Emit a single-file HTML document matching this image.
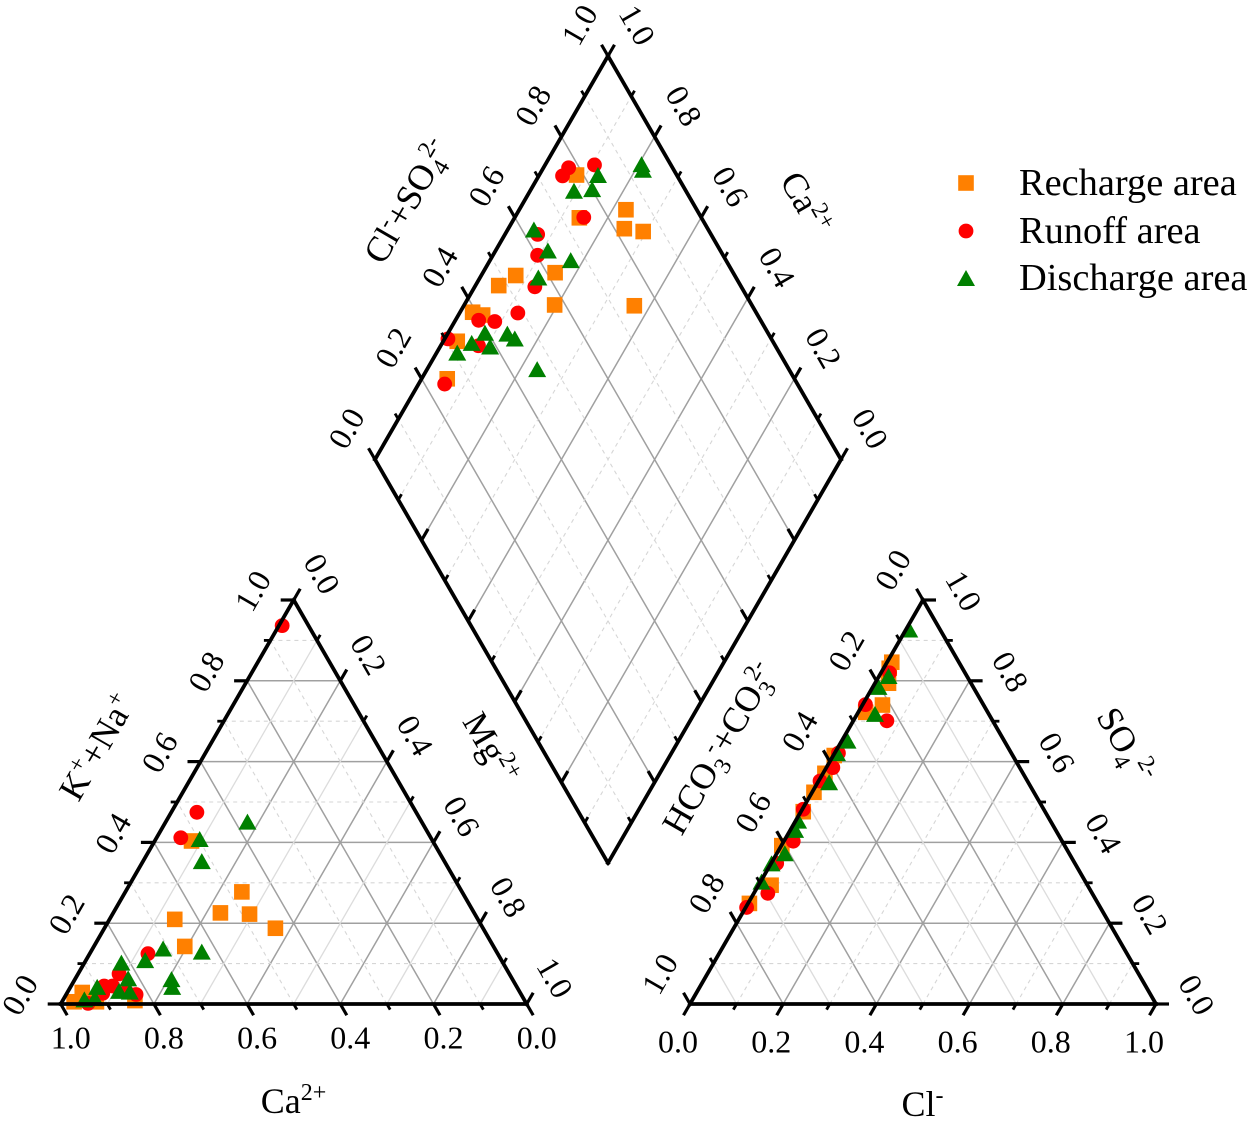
<!DOCTYPE html>
<html lang="en">
<head>
<meta charset="utf-8">
<title>Piper diagram</title>
<style>
html,body{margin:0;padding:0;background:#fff;width:1250px;height:1121px;overflow:hidden}
svg{display:block}
text{font-family:"Liberation Serif","Times New Roman",serif;fill:#000}
.tick{font-size:32px}
.title{font-size:36px}
.legend{font-size:38.4px}
</style>
</head>
<body>
<svg id="chart" xmlns="http://www.w3.org/2000/svg" width="1250" height="1121" viewBox="0 0 1250 1121">
  <rect x="0" y="0" width="1250" height="1121" fill="#fff"/>
  <g id="grid"></g>
  <g id="marks"></g>
  <g id="axes"></g>
  <g id="labels"></g>

  <text class="title" text-anchor="middle" transform="translate(97,747) rotate(-60)" y="12">K<tspan font-size="24" dy="-13">+</tspan><tspan dy="13">+Na</tspan><tspan font-size="24" dy="-13">+</tspan></text>
  <text class="title" text-anchor="middle" transform="translate(491,748) rotate(60)" y="12">Mg<tspan font-size="24" dy="-13">2+</tspan></text>
  <text class="title" text-anchor="middle" x="293.5" y="1113">Ca<tspan font-size="24" dy="-13">2+</tspan></text>
  <text class="title" text-anchor="middle" transform="translate(719,748) rotate(-60)" y="12">HCO<tspan font-size="24" dy="8">3</tspan><tspan font-size="24" dy="-21" dx="-1">-</tspan><tspan dy="13">+CO</tspan><tspan font-size="24" dy="8">3</tspan><tspan font-size="24" dy="-21" dx="-6">2-</tspan></text>
  <text class="title" text-anchor="middle" transform="translate(1126,745) rotate(60)" y="12">SO<tspan font-size="24" dy="8">4</tspan><tspan font-size="24" dy="-21" dx="2">2-</tspan></text>
  <text class="title" text-anchor="middle" x="922.5" y="1116">Cl<tspan font-size="24" dy="-13">-</tspan></text>
  <text class="title" text-anchor="middle" transform="translate(407,201) rotate(-60)" y="12">Cl<tspan font-size="24" dy="-13">-</tspan><tspan dy="13">+SO</tspan><tspan font-size="24" dy="8">4</tspan><tspan font-size="24" dy="-21" dx="-4">2-</tspan></text>
  <text class="title" text-anchor="middle" transform="translate(806,203) rotate(60)" y="12">Ca<tspan font-size="24" dy="-13">2+</tspan></text>

  <g>
    <rect x="958.2" y="175.2" width="15.6" height="15.6" fill="#FF8000"/>
    <text class="legend" x="1019" y="195">Recharge area</text>
    <circle cx="966" cy="231" r="7.4" fill="#FF0000"/>
    <text class="legend" x="1019" y="243">Runoff area</text>
    <polygon points="957,286 975,286 966,270" fill="#008000"/>
    <text class="legend" x="1019" y="290">Discharge area</text>
  </g>
</svg>

<script>
// ---------- Tick values ----------
const majorTicks = [0, 0.2, 0.4, 0.6, 0.8, 1];
const minorTicks = [0.1, 0.3, 0.5, 0.7, 0.9];
const tickLabels = ['0.0', '0.2', '0.4', '0.6', '0.8', '1.0'];

// ---------- Cation triangle: Ca2+ and K+ + Na+ fractions ----------
const rechargeCa = [0.4725, 0.5445, 0.4835, 0.6505, 0.4455, 0.6625, 0.9395, 0.9685, 0.9205, 0.8365, 0.5175];
const rechargeNa = [0.2775, 0.2255, 0.2225, 0.2095, 0.1875, 0.1425, 0.0285, 0.0055, 0.0055, 0.0085, 0.4035];
const runoffCa = [0.0565, 0.4705, 0.5365, 0.7505, 0.8375, 0.8845, 0.8665, 0.8965, 0.9405, 0.8265, 0.8435];
const runoffNa = [0.9365, 0.4745, 0.4115, 0.1245, 0.0745, 0.0445, 0.0445, 0.0265, 0.0015, 0.0235, 0.0305];
const dischargeCa = [0.3735, 0.4975, 0.5205, 0.6325, 0.7115, 0.7645, 0.8185, 0.8235, 0.7315, 0.7395, 0.8585, 0.8365, 0.9005, 0.9435, 0.9195];
const dischargeNa = [0.4515, 0.4085, 0.3535, 0.1295, 0.1375, 0.1085, 0.1025, 0.0635, 0.0615, 0.0425, 0.0325, 0.0305, 0.0425, 0.0115, 0.0145];

// ---------- Anion triangle: Cl- and SO4 2- fractions ----------
const rechargeCl = [0.010, 0.012, 0.029, 0.043, 0.016, 0.002, 0.004, 0.004, 0.005, 0.001, 0.027, 0.003];
const rechargeSO4 = [0.846, 0.831, 0.794, 0.740, 0.722, 0.615, 0.571, 0.524, 0.476, 0.392, 0.294, 0.249];
const runoffCl = [0.018, 0.006, 0.072, 0.008, 0.014, 0.003, 0.002, 0.020, 0.012, 0.030, 0.002];
const runoffSO4 = [0.820, 0.741, 0.701, 0.621, 0.585, 0.552, 0.482, 0.403, 0.348, 0.274, 0.239];
const dischargeCl = [0.007, 0.020, 0.012, 0.038, 0.012, 0.005, 0.024, 0.005, 0.010, 0.017, 0.001, 0.002];
const dischargeSO4 = [0.927, 0.812, 0.785, 0.718, 0.652, 0.621, 0.549, 0.454, 0.431, 0.373, 0.348, 0.303];

// ---------- Diamond: Cl- + SO4 2- and Ca2+ fractions ----------
const rechargeDiamondAnion = [0.785, 0.738, 0.848, 0.821, 0.858, 0.618, 0.530, 0.481, 0.577, 0.747, 0.392, 0.410, 0.323, 0.255];
const rechargeDiamondCa = [0.920, 0.861, 0.771, 0.751, 0.707, 0.845, 0.926, 0.950, 0.806, 0.634, 0.973, 0.948, 0.970, 0.945];
const runoffDiamondAnion = [0.777, 0.754, 0.836, 0.748, 0.628, 0.602, 0.557, 0.488, 0.428, 0.395, 0.306, 0.363, 0.243];
const runoffDiamondCa = [0.946, 0.949, 0.894, 0.852, 0.930, 0.904, 0.871, 0.875, 0.914, 0.950, 0.993, 0.919, 0.944];
const dischargeDiamondAnion = [0.938, 0.934, 0.831, 0.760, 0.801, 0.626, 0.630, 0.667, 0.576, 0.393, 0.440, 0.450, 0.352, 0.387, 0.309, 0.460];
const dischargeDiamondCa = [0.794, 0.784, 0.874, 0.906, 0.869, 0.944, 0.888, 0.827, 0.875, 0.921, 0.872, 0.850, 0.937, 0.893, 0.956, 0.764];

// ---------- Axis functions ----------
function leftXY(ca, na) {
  return { x: 60.7 + 466 * (1 - ca - na / 2), y: 1004 - 404 * na };
}
function rightXY(cl, so4) {
  return { x: 690 + 466 * (cl + so4 / 2), y: 1004 - 404 * so4 };
}
function diamondXY(anion, ca) {
  return { x: 608 + 233 * (anion - ca), y: 863 - 403.5 * (anion + ca) };
}

const NS = 'http://www.w3.org/2000/svg';
const gridLayer = document.getElementById('grid');
const marksLayer = document.getElementById('marks');
const axesLayer = document.getElementById('axes');
const labelsLayer = document.getElementById('labels');

function make(tag, attrs, parent) {
  const el = document.createElementNS(NS, tag);
  for (const k in attrs) el.setAttribute(k, attrs[k]);
  parent.appendChild(el);
  return el;
}

function gridLine(p, q, kind) {
  const style = kind === 'major'
    ? { stroke: '#a0a0a0', 'stroke-width': 1.5 }
    : kind === 'light'
      ? { stroke: '#dcdcdc', 'stroke-width': 1.3 }
      : { stroke: '#d6d6d6', 'stroke-width': 1.1, 'stroke-dasharray': '4 4' };
  const el = make('line', Object.assign({ x1: p.x, y1: p.y, x2: q.x, y2: q.y }, style), gridLayer);
  
  
}

function edgeLine(p, q) {
  const el = make('line', { x1: p.x, y1: p.y, x2: q.x, y2: q.y, stroke: '#000', 'stroke-width': 3.8, 'stroke-linecap': 'square' }, axesLayer);
  
  
}

function tickMark(p, dir, major) {
  const len = major ? 13 : 6.5;
  const el = make('line', { x1: p.x, y1: p.y, x2: p.x + dir[0] * len, y2: p.y + dir[1] * len, stroke: '#000', 'stroke-width': major ? 3.2 : 2.8 }, axesLayer);
  
  
}

function tickLabel(p, off, text, rot) {
  const cx = p.x + off[0], cy = p.y + off[1];
  const el = make('text', { class: 'tick', 'text-anchor': 'middle', y: 10.5, transform: 'translate(' + cx + ',' + cy + ') rotate(' + rot + ')' }, labelsLayer);
  el.textContent = text;
  
  
}

// Draw one axis: pos maps a value to an edge point
function drawAxis(pos, dir, labelOffset, rot) {
  minorTicks.forEach(function (v) { tickMark(pos(v), dir, false); });
  majorTicks.forEach(function (v, i) {
    tickMark(pos(v), dir, true);
    if (labelOffset) tickLabel(pos(v), labelOffset, tickLabels[i], rot);
  });
}

// ---------- Grid ----------
function isMajor(v) { return majorTicks.indexOf(v) >= 0; }

majorTicks.slice(1, -1).concat(minorTicks).forEach(function (v) {
  const major = isMajor(v);
  // left triangle
  gridLine(leftXY(1 - v, v), leftXY(0, v), major ? 'major' : 'dash');
  gridLine(leftXY(v, 0), leftXY(v, 1 - v), major ? 'major' : 'dash');
  gridLine(leftXY(1 - v, 0), leftXY(0, 1 - v), major ? 'major' : 'light');
  // right triangle
  gridLine(rightXY(0, v), rightXY(1 - v, v), major ? 'major' : 'dash');
  gridLine(rightXY(v, 0), rightXY(v, 1 - v), major ? 'major' : 'dash');
  gridLine(rightXY(0, 1 - v), rightXY(1 - v, 0), major ? 'major' : 'light');
  // diamond
  gridLine(diamondXY(v, 0), diamondXY(v, 1), major ? 'major' : 'dash');
  gridLine(diamondXY(0, v), diamondXY(1, v), major ? 'major' : 'dash');
});

// ---------- Markers ----------
function square(p) {
  const el = make('rect', { x: p.x - 7.8, y: p.y - 7.8, width: 15.6, height: 15.6, fill: '#FF8000' }, marksLayer);
  
  
}
function circle(p) {
  const el = make('circle', { cx: p.x, cy: p.y, r: 7.4, fill: '#FF0000' }, marksLayer);
  
  
}
function triangle(p) {
  const pts = (p.x - 9) + ',' + (p.y + 8) + ' ' + (p.x + 9) + ',' + (p.y + 8) + ' ' + p.x + ',' + (p.y - 8);
  const el = make('polygon', { points: pts, fill: '#008000' }, marksLayer);
  
  
}

function plot(xs, ys, axisFn, markFn) {
  xs.forEach(function (v, i) { markFn(axisFn(v, ys[i])); });
}

plot(rechargeCa, rechargeNa, leftXY, square);
plot(rechargeCl, rechargeSO4, rightXY, square);
plot(rechargeDiamondAnion, rechargeDiamondCa, diamondXY, square);
plot(runoffCa, runoffNa, leftXY, circle);
plot(runoffCl, runoffSO4, rightXY, circle);
plot(runoffDiamondAnion, runoffDiamondCa, diamondXY, circle);
plot(dischargeCa, dischargeNa, leftXY, triangle);
plot(dischargeCl, dischargeSO4, rightXY, triangle);
plot(dischargeDiamondAnion, dischargeDiamondCa, diamondXY, triangle);

// ---------- Axes ----------
const S = 0.866;
// left triangle
edgeLine(leftXY(1, 0), leftXY(0, 0));
edgeLine(leftXY(1, 0), leftXY(0, 1));
edgeLine(leftXY(0, 1), leftXY(0, 0));
drawAxis(function (v) { return leftXY(1 - v, v); }, [-1, 0], [-40.7, -9], -60);
drawAxis(function (v) { return leftXY(v, 0); }, [0.5, S], [10, 34], 0);
drawAxis(function (v) { return leftXY(0, 1 - v); }, [0.5, -S], [28, -26], 60);
// right triangle
edgeLine(rightXY(0, 0), rightXY(1, 0));
edgeLine(rightXY(0, 0), rightXY(0, 1));
edgeLine(rightXY(0, 1), rightXY(1, 0));
drawAxis(function (v) { return rightXY(0, 1 - v); }, [-0.5, -S], [-30, -30], -60);
drawAxis(function (v) { return rightXY(v, 0); }, [-0.5, S], [-12, 38], 0);
drawAxis(function (v) { return rightXY(1 - v, v); }, [1, 0], [40.5, -9], 60);
// diamond
edgeLine(diamondXY(0, 1), diamondXY(1, 1));
edgeLine(diamondXY(1, 0), diamondXY(1, 1));
edgeLine(diamondXY(0, 1), diamondXY(0, 0));
edgeLine(diamondXY(1, 0), diamondXY(0, 0));
drawAxis(function (v) { return diamondXY(v, 1); }, [-0.5, -S], [-28.3, -31], -60);
drawAxis(function (v) { return diamondXY(1, v); }, [0.5, -S], [29, -30.7], 60);
drawAxis(function (v) { return diamondXY(0, v); }, [0.5, -S], null, 0);
drawAxis(function (v) { return diamondXY(v, 0); }, [-0.5, -S], null, 0);
</script>
</body>
</html>
